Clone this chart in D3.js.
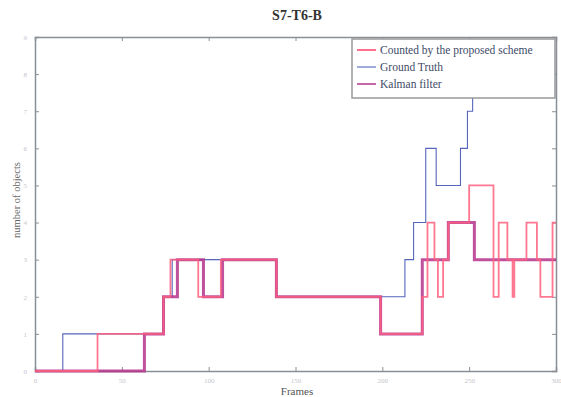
<!DOCTYPE html>
<html>
<head>
<meta charset="utf-8">
<script src="https://cdn.jsdelivr.net/npm/d3@7"></script>
<style>
  html, body { margin: 0; padding: 0; background: #fff; }
  svg { display: block; }
</style>
</head>
<body>
<script>
// ---- data ----
const title = "S7-T6-B";
const xLabel = "Frames";
const yLabel = "number of objects";
const xTicks = [0, 50, 100, 150, 200, 250, 300];
const yTicks = [0, 1, 2, 3, 4, 5, 6, 7, 8, 9];

const gtFrames = [0, 16, 74, 79, 139, 213, 218, 225, 231, 245, 249, 252, 300];
const gtValues = [0, 1, 2, 3, 2, 3, 4, 6, 5, 6, 7, 8, 8];

const kalmanFrames = [0, 63, 74, 82, 97, 108, 139, 199, 223, 238, 253, 300];
const kalmanValues = [0, 1, 2, 3, 2, 3, 2, 1, 3, 4, 3, 3];

const propFrames = [0, 36, 74, 78, 94, 107, 139, 199, 223, 226, 230, 232, 235, 238, 250, 264, 267, 272, 275, 276, 283, 289, 291, 298, 300];
const propValues = [0, 1, 2, 3, 2, 3, 2, 1, 2, 4, 3, 2, 3, 4, 5, 2, 4, 3, 2, 3, 4, 3, 2, 4, 4];

const legendNames = ["Counted by the proposed scheme", "Ground Truth", "Kalman filter"];

// ---- layout ----
const W = 561, H = 397;
const m = { left: 35, top: 37, right: 5, bottom: 26 };
const iw = W - m.left - m.right, ih = H - m.top - m.bottom;

const svg = d3.select("body").append("svg").attr("width", W).attr("height", H);

const x = d3.scaleLinear().domain([0, 300]).range([m.left, m.left + iw]);
const y = d3.scaleLinear().domain([0, 9]).range([m.top + ih, m.top]);

svg.append("defs").append("clipPath").attr("id", "clip")
  .append("rect").attr("x", m.left).attr("y", m.top - 2).attr("width", iw).attr("height", ih + 4);

const axisColor = "#8a8f96";
const labelColor = "#c4c6cc";

// axes (MATLAB style inward ticks, mirrored)
const gx = svg.append("g").attr("transform", `translate(0,${m.top + ih})`)
  .call(d3.axisBottom(x).tickValues(xTicks).tickSize(-4).tickPadding(7));
const gxt = svg.append("g").attr("transform", `translate(0,${m.top})`)
  .call(d3.axisTop(x).tickValues(xTicks).tickSize(-4).tickFormat(""));
const gy = svg.append("g").attr("transform", `translate(${m.left},0)`)
  .call(d3.axisLeft(y).tickValues(yTicks).tickSize(-4).tickPadding(8));
const gyr = svg.append("g").attr("transform", `translate(${m.left + iw},0)`)
  .call(d3.axisRight(y).tickValues(yTicks).tickSize(-4).tickFormat(""));

[gx, gxt, gy, gyr].forEach(g => {
  g.selectAll("path").attr("stroke", axisColor).attr("stroke-width", 1.5);
  g.selectAll("line").attr("stroke", axisColor);
  g.selectAll("text").attr("fill", labelColor).attr("font-size", 7)
    .attr("font-family", "Liberation Serif, serif");
});

// lines
const mk = (fr, vals) => fr.map((f, i) => [f, vals[i]]);
const line = d3.line().x(d => x(d[0])).y(d => y(d[1])).curve(d3.curveStepAfter);
const plot = svg.append("g").attr("clip-path", "url(#clip)");

plot.append("path").datum(mk(gtFrames, gtValues))
  .attr("fill", "none").attr("stroke", "#5566bb").attr("stroke-width", 1.1).attr("d", line);
plot.append("path").datum(mk(kalmanFrames, kalmanValues))
  .attr("fill", "none").attr("stroke", "#b5338c").attr("stroke-width", 3).attr("stroke-opacity", 0.85).attr("d", line);
plot.append("path").datum(mk(propFrames, propValues))
  .attr("fill", "none").attr("stroke", "#ff5f7e").attr("stroke-width", 1.8).attr("stroke-opacity", 0.85).attr("d", line);

// title and labels
svg.append("text").attr("x", 297).attr("y", 20).attr("text-anchor", "middle")
  .attr("font-family", "Liberation Serif, serif").attr("font-weight", "bold").attr("font-size", 14)
  .attr("fill", "#333").text(title);
svg.append("text").attr("x", 297).attr("y", 395).attr("text-anchor", "middle")
  .attr("font-family", "Liberation Serif, serif").attr("font-size", 11).attr("fill", "#555").text(xLabel);
svg.append("text").attr("transform", `translate(20,${200}) rotate(-90)`).attr("text-anchor", "middle")
  .attr("font-family", "Liberation Serif, serif").attr("font-size", 10.5).attr("fill", "#666").text(yLabel);

// legend
const lg = svg.append("g");
lg.append("rect").attr("x", 352).attr("y", 39).attr("width", 203).attr("height", 59)
  .attr("fill", "#fff").attr("stroke", "#999").attr("stroke-width", 1.5);
const lcol = ["#ff5f7e", "#5566bb", "#b5338c"];
const lw = [1.8, 1.1, 1.5];
legendNames.forEach((n, i) => {
  const yy = 50 + i * 17;
  lg.append("line").attr("x1", 357).attr("x2", 376).attr("y1", yy).attr("y2", yy)
    .attr("stroke", lcol[i]).attr("stroke-width", lw[i]);
  lg.append("text").attr("x", 380).attr("y", yy + 4).attr("font-family", "Liberation Serif, serif")
    .attr("font-size", 11.5).attr("fill", "#3d4a66").text(n);
});
</script>
</body>
</html>
